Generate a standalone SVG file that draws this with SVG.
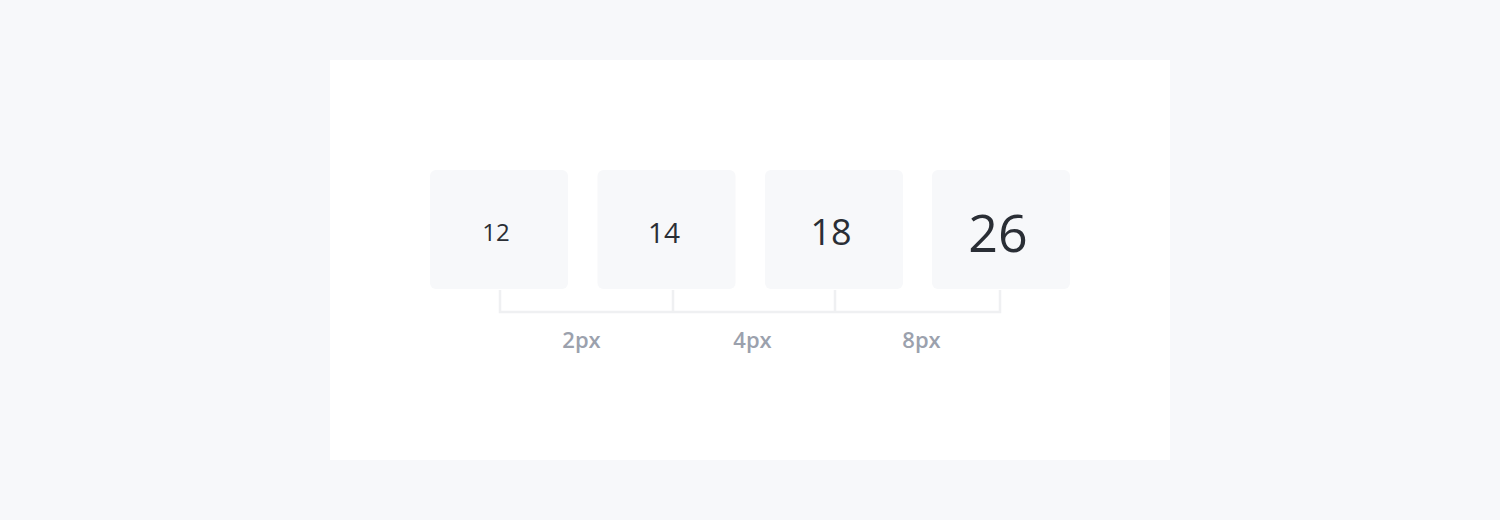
<svg xmlns="http://www.w3.org/2000/svg" width="1500" height="520" viewBox="0 0 1500 520">
<style>
.box{fill:#f7f8fa}
.num{font-family:"Open Sans","Liberation Sans",sans-serif;fill:#2a2e35;text-anchor:middle}
.lbl{font-family:"Open Sans","Liberation Sans",sans-serif;font-weight:600;font-size:22px;fill:#9ba1ad;text-anchor:middle}
.conn{stroke:#eff0f2;stroke-width:2.5;fill:none}
</style>
<rect x="0" y="0" width="1500" height="520" fill="#f7f8fa"/>
<rect x="330" y="60" width="840" height="400" fill="#ffffff"/>
<g id="connectors">
<path class="conn" d="M500 290V312H1000V290M673 290V312M835 290V312"/>
</g>
<g id="n12"><rect class="box" x="430" y="170" width="138" height="119" rx="6"/><text class="num" x="496" y="240.5" font-size="24">12</text></g>
<g id="n14"><rect class="box" x="597.5" y="170" width="138" height="119" rx="6"/><text class="num" x="664" y="242.5" font-size="28">14</text></g>
<g id="n18"><rect class="box" x="765" y="170" width="138" height="119" rx="6"/><text class="num" x="831" y="245" font-size="36">18</text></g>
<g id="n26"><rect class="box" x="932" y="170" width="138" height="119" rx="6"/><text class="num" x="998" y="251.5" font-size="52">26</text></g>
<g id="labels">
<text class="lbl" x="581.5" y="347.5">2px</text>
<text class="lbl" x="752.5" y="347.5">4px</text>
<text class="lbl" x="921.5" y="347.5">8px</text>
</g>
</svg>
